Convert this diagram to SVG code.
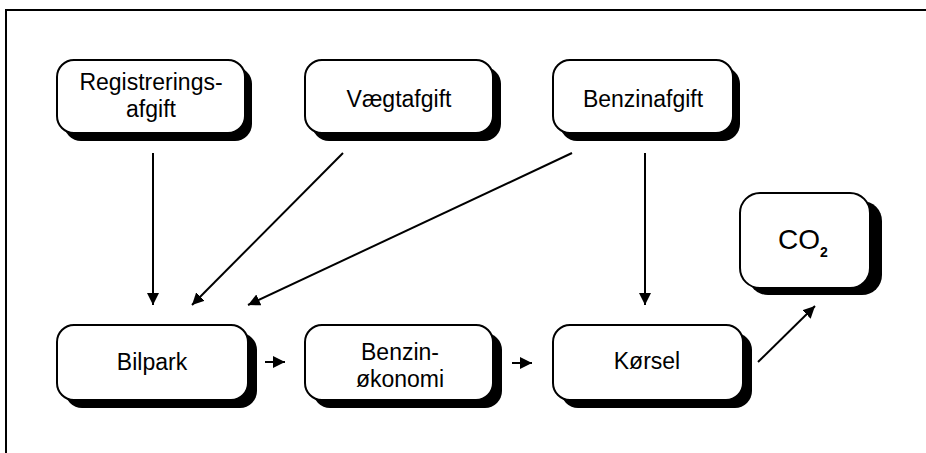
<svg xmlns="http://www.w3.org/2000/svg" width="926" height="453" viewBox="0 0 926 453">
<style>
.sh{fill:#000}
.bx{fill:#fff;stroke:#000;stroke-width:2}
.t{font-family:"Liberation Sans",Arial,sans-serif;font-size:23px;fill:#000;text-anchor:middle}
.c{stroke:#000;stroke-width:2;fill:none}
</style>
<defs>
<marker id="ah" viewBox="0 0 10 10" refX="10" refY="5" markerWidth="6" markerHeight="6" markerUnits="strokeWidth" orient="auto">
<path d="M0,0 L10,5 L0,10 Z" fill="#000"/>
</marker>
</defs>
<rect width="926" height="453" fill="#fff"/>
<path d="M6,453 V10 H926" fill="none" stroke="#000" stroke-width="2"/>

<g id="registreringsafgift">
<rect class="sh" x="64" y="67" width="188" height="74" rx="17"/>
<rect class="bx" x="57" y="60" width="188" height="73" rx="17"/>
<text class="t" x="151" y="90">Registrerings-</text>
<text class="t" x="151" y="117">afgift</text>
</g>
<g id="vaegtafgift">
<rect class="sh" x="312" y="67" width="189" height="74" rx="17"/>
<rect class="bx" x="305" y="60" width="188" height="73" rx="17"/>
<text class="t" x="399" y="107">Vægtafgift</text>
</g>
<g id="benzinafgift">
<rect class="sh" x="560" y="67" width="180" height="74" rx="17"/>
<rect class="bx" x="553" y="60" width="180" height="73" rx="17"/>
<text class="t" x="643" y="107">Benzinafgift</text>
</g>
<g id="bilpark">
<rect class="sh" x="65" y="333" width="192" height="75" rx="17"/>
<rect class="bx" x="57" y="325" width="191" height="75" rx="17"/>
<text class="t" x="152" y="370">Bilpark</text>
</g>
<g id="benzinokonomi">
<rect class="sh" x="313" y="333" width="189" height="75" rx="17"/>
<rect class="bx" x="305" y="325" width="188" height="75" rx="17"/>
<text class="t" x="400" y="360">Benzin-</text>
<text class="t" x="400" y="387">økonomi</text>
</g>
<g id="korsel">
<rect class="sh" x="561" y="333" width="191" height="75" rx="17"/>
<rect class="bx" x="553" y="325" width="190" height="75" rx="17"/>
<text class="t" x="647" y="369">Kørsel</text>
</g>
<g id="co2">
<rect class="sh" x="748" y="201" width="134" height="94" rx="20"/>
<rect class="bx" x="740" y="193" width="130" height="95" rx="20"/>
<text class="t" x="803" y="249" style="font-size:28px">CO<tspan dy="8" style="font-size:14px;font-weight:bold">2</tspan></text>
</g>

<g id="connectors">
<line class="c" x1="153" y1="153" x2="153" y2="305" marker-end="url(#ah)"/>
<line class="c" x1="343" y1="153" x2="192" y2="305" marker-end="url(#ah)"/>
<line class="c" x1="572" y1="153" x2="248" y2="305" marker-end="url(#ah)"/>
<line class="c" x1="645" y1="153" x2="645" y2="305" marker-end="url(#ah)"/>
<line class="c" x1="265" y1="362" x2="285" y2="362" marker-end="url(#ah)"/>
<line class="c" x1="512" y1="363" x2="532" y2="363" marker-end="url(#ah)"/>
<line class="c" x1="758" y1="362" x2="815" y2="306" marker-end="url(#ah)"/>
</g>
</svg>
